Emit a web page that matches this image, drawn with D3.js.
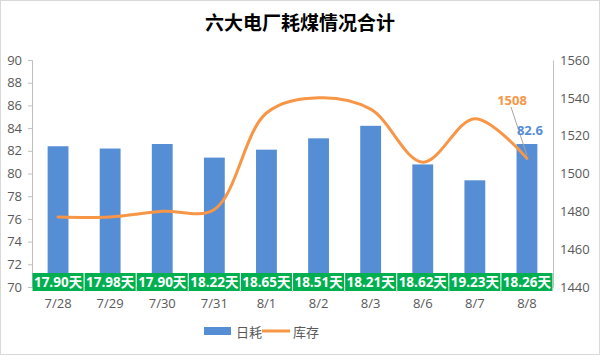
<!DOCTYPE html>
<html><head><meta charset="utf-8">
<script src="https://cdn.jsdelivr.net/npm/d3@7"></script>
<style>
body{margin:0;background:#fff;}
svg{display:block;}
svg text{font-family:"Open Sans","Noto Sans CJK SC",sans-serif;}
</style></head>
<body><svg id="c" width="600" height="355"></svg>
<script>
const categories = ["7/28","7/29","7/30","7/31","8/1","8/2","8/3","8/6","8/7","8/8"];
const dailyUse = [82.4, 82.2, 82.6, 81.4, 82.1, 83.1, 84.2, 80.8, 79.4, 82.6];
const stock = [1477, 1477, 1480, 1481, 1532, 1540, 1534, 1506, 1529, 1508];
const days = ["17.90","17.98","17.90","18.22","18.65","18.51","18.21","18.62","19.23","18.26"];
const leftTicks = [70,72,74,76,78,80,82,84,86,88,90];
const rightTicks = [1440,1460,1480,1500,1520,1540,1560];
const title = "六大电厂耗煤情况合计";
const seriesNames = ["日耗","库存"];

const svg = d3.select("#c");
const W = 600, H = 355;
const barColor = "#558ED5", lineColor = "#F79646", green = "#00B050", txt = "#595959";
svg.append("rect").attr("x",0.5).attr("y",0.5).attr("width",W-1).attr("height",H-1)
  .attr("fill","#fff").attr("stroke","#d9d9d9");

const m = {l:32, r:553, t:60, b:287};
const x = d3.scaleBand().domain(categories).range([m.l, m.r]).paddingInner(0.6).paddingOuter(0.3);
const xb = d3.scaleBand().domain(categories).range([m.l, m.r]);
const yL = d3.scaleLinear().domain([70,90]).range([m.b, m.t]);
const yR = d3.scaleLinear().domain([1440,1560]).range([m.b, m.t]);

svg.append("text").attr("x",300).attr("y",30).attr("text-anchor","middle")
  .style("font-family","'Noto Sans CJK SC'")
  .attr("font-size",19).attr("font-weight","bold").attr("fill","#000").text(title);

// Left axis
const gl = svg.append("g").attr("transform",`translate(${m.l},0)`)
  .call(d3.axisLeft(yL).tickValues(leftTicks).tickSize(4).tickPadding(6));
gl.attr("font-family",null);
gl.select(".domain").attr("stroke","#bfbfbf");
gl.selectAll(".tick line").attr("stroke","#bfbfbf");
gl.selectAll("text").attr("font-size",13).attr("fill",txt);

// Right axis
const gr = svg.append("g").attr("transform",`translate(${m.r},0)`)
  .call(d3.axisRight(yR).tickValues(rightTicks).tickFormat(d3.format("d")).tickSize(0).tickPadding(7));
gr.attr("font-family",null);
gr.select(".domain").attr("stroke","#bfbfbf");
gr.selectAll("text").attr("font-size",13).attr("fill",txt);

// Bars
svg.append("g").selectAll("rect").data(dailyUse).join("rect")
  .attr("x",(d,i)=>x(categories[i])).attr("width",x.bandwidth())
  .attr("y",d=>yL(d)).attr("height",d=>yL(70)-yL(d)).attr("fill",barColor);

// Bottom axis
const gb = svg.append("g").attr("transform",`translate(0,${m.b})`)
  .call(d3.axisBottom(xb).tickSize(0).tickPadding(12));
gb.attr("font-family",null);
gb.select(".domain").attr("stroke","#d9d9d9");
gb.selectAll("text").attr("font-size",13).attr("fill",txt);
gb.selectAll(".sep").data(categories.slice(1)).join("line").attr("class","sep")
  .attr("x1",d=>xb(d)).attr("x2",d=>xb(d)).attr("y1",0).attr("y2",5).attr("stroke","#d9d9d9");

// Green day labels
const gd = svg.append("g");
categories.forEach((c,i)=>{
  const cx = xb(c)+xb.bandwidth()/2;
  gd.append("rect").attr("x",cx-25.5).attr("y",273).attr("width",51).attr("height",18).attr("fill",green);
  gd.append("text").attr("x",cx).attr("y",287).attr("text-anchor","middle")
    .attr("font-size",13.5).attr("font-weight","bold").attr("fill","#fff").text(days[i]+"天");
});

// Line
const line = d3.line().x((d,i)=>xb(categories[i])+xb.bandwidth()/2).y(d=>yR(d))
  .curve(d3.curveCatmullRom.alpha(0.5));
svg.append("path").datum(stock).attr("d",line).attr("fill","none")
  .attr("stroke",lineColor).attr("stroke-width",3).attr("stroke-linecap","round");

// Last-point labels
const li = categories.length-1;
const lx = xb(categories[li])+xb.bandwidth()/2;
svg.append("line").attr("x1",511).attr("y1",107).attr("x2",lx).attr("y2",yR(stock[li])-3)
  .attr("stroke","#a6a6a6").attr("stroke-width",1);
svg.append("text").attr("x",512).attr("y",105).attr("text-anchor","middle")
  .attr("font-size",13).attr("font-weight","bold").attr("fill",lineColor).text(stock[li]);
svg.append("text").attr("x",lx+3).attr("y",yL(dailyUse[li])-9).attr("text-anchor","middle")
  .attr("font-size",13).attr("font-weight","bold").attr("fill",barColor).text(dailyUse[li].toFixed(1));

// Legend
const lg = svg.append("g");
lg.append("rect").attr("x",204).attr("y",327).attr("width",27).attr("height",8).attr("fill",barColor);
lg.append("text").attr("x",236).attr("y",337).attr("font-size",13).attr("fill",txt).text(seriesNames[0]);
lg.append("line").attr("x1",262).attr("x2",290).attr("y1",331).attr("y2",331).attr("stroke",lineColor).attr("stroke-width",3);
lg.append("text").attr("x",293).attr("y",337).attr("font-size",13).attr("fill",txt).text(seriesNames[1]);
</script></body></html>
